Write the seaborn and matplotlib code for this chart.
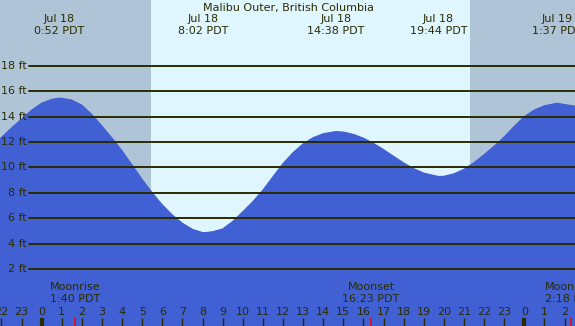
import numpy as np
import pandas as pd
import matplotlib
matplotlib.use("Agg")
import matplotlib.pyplot as plt
import seaborn as sns

# tide height (ft), hours from Jul 18 00:00 PDT
tide_hours = [-2.1, -2, -1.5, -1, -0.5, 0, 0.5, 0.87, 1, 1.5, 2, 2.5, 3, 3.5, 4, 4.5, 5, 5.5,
              6, 6.5, 7, 7.5, 8.03, 8.5, 9, 9.5, 10, 10.5, 11, 11.5, 12, 12.5, 13, 13.5, 14,
              14.63, 15, 15.5, 16, 16.5, 17, 17.5, 18, 18.5, 19, 19.73, 20, 20.5, 21, 21.5,
              22, 22.5, 23, 23.5, 24, 24.5, 25, 25.62, 26, 26.6]
tide_ft = [12.25, 12.35, 13.1, 13.8, 14.5, 15.05, 15.36, 15.45, 15.44, 15.3, 14.9, 14.16,
           13.25, 12.31, 11.3, 10.18, 9.05, 8.0, 7.05, 6.25, 5.6, 5.12, 4.85, 4.93, 5.15,
           5.74, 6.5, 7.3, 8.2, 9.26, 10.3, 11.16, 11.85, 12.34, 12.65, 12.82, 12.78, 12.6,
           12.3, 11.89, 11.4, 10.87, 10.35, 9.9, 9.55, 9.28, 9.3, 9.49, 9.85, 10.37, 11.0,
           11.67, 12.4, 13.23, 14.0, 14.52, 14.85, 15.05, 14.95, 14.8]

# high / low labels along the top
extreme_hours = [0.87, 8.03, 14.63, 19.73, 25.62]
extreme_dates = ["Jul 18", "Jul 18", "Jul 18", "Jul 18", "Jul 19"]
extreme_times = ["0:52 PDT", "8:02 PDT", "14:38 PDT", "19:44 PDT", "1:37 PDT"]

# moon events
moon_hours = [1.67, 16.38, 26.3]
moon_names = ["Moonrise", "Moonset", "Moonrise"]
moon_times = ["1:40 PDT", "16:23 PDT", "2:18 PDT"]

sunrise, sunset = 5.43, 21.3
levels = [2, 4, 6, 8, 10, 12, 14, 16, 18]
hour_ticks = list(range(-2, 27))

title = "Malibu Outer, British Columbia"

night = "#b0c4d8"
day = "#dff6ff"
water = "#4060d4"
ink = "#2b2b00"

sns.set_style("white")
plt.rcParams["font.family"] = ["DejaVu Sans"]

fig = plt.figure(figsize=(5.75, 3.26), dpi=100)
ax = fig.add_axes([0, 0, 1, 1])
ax.set_facecolor(night)
ax.axvspan(sunrise, sunset, color=day, lw=0, zorder=0)

df = pd.DataFrame({"hour": tide_hours, "ft": tide_ft})
ax.fill_between(df["hour"], df["ft"], -5, color=water, lw=0, zorder=1)
sns.lineplot(data=df, x="hour", y="ft", ax=ax, color=water, lw=0.8, zorder=2)

for lv in levels:
    ax.axhline(lv, xmin=29 / 575, xmax=1, color=ink, lw=1.4, zorder=3)
    ax.text(-0.73, lv, f"{lv} ft", ha="right", va="center", fontsize=8, color=ink)

ax.text(12.25, 22.55, title, ha="center", va="center", fontsize=8, color=ink)
for h, d, t in zip(extreme_hours, extreme_dates, extreme_times):
    ax.text(h, 21.68, d, ha="center", va="center", fontsize=8, color=ink)
    ax.text(h, 20.73, t, ha="center", va="center", fontsize=8, color=ink)

for h, n, t in zip(moon_hours, moon_names, moon_times):
    ax.text(h, 0.56, n, ha="center", va="center", fontsize=8, color=ink)
    ax.text(h, -0.39, t, ha="center", va="center", fontsize=8, color=ink)

for h in hour_ticks:
    ax.text(h, -1.36, str(h % 24), ha="center", va="center", fontsize=8, color=ink)
    ax.vlines(h, -2.6, -1.85, color=ink, lw=3 if h % 24 == 0 else 1, zorder=4)
ax.vlines(moon_hours, -2.6, -1.85, color="#ff0000", lw=1.1, zorder=4)

ax.set_xlim(-2.07, 26.52)
ax.set_ylim(-2.49, 23.18)
ax.set_xlabel("")
ax.set_ylabel("")
ax.set_xticks([])
ax.set_yticks([])
for s in ax.spines.values():
    s.set_visible(False)

fig.savefig("out.png", dpi=100)
